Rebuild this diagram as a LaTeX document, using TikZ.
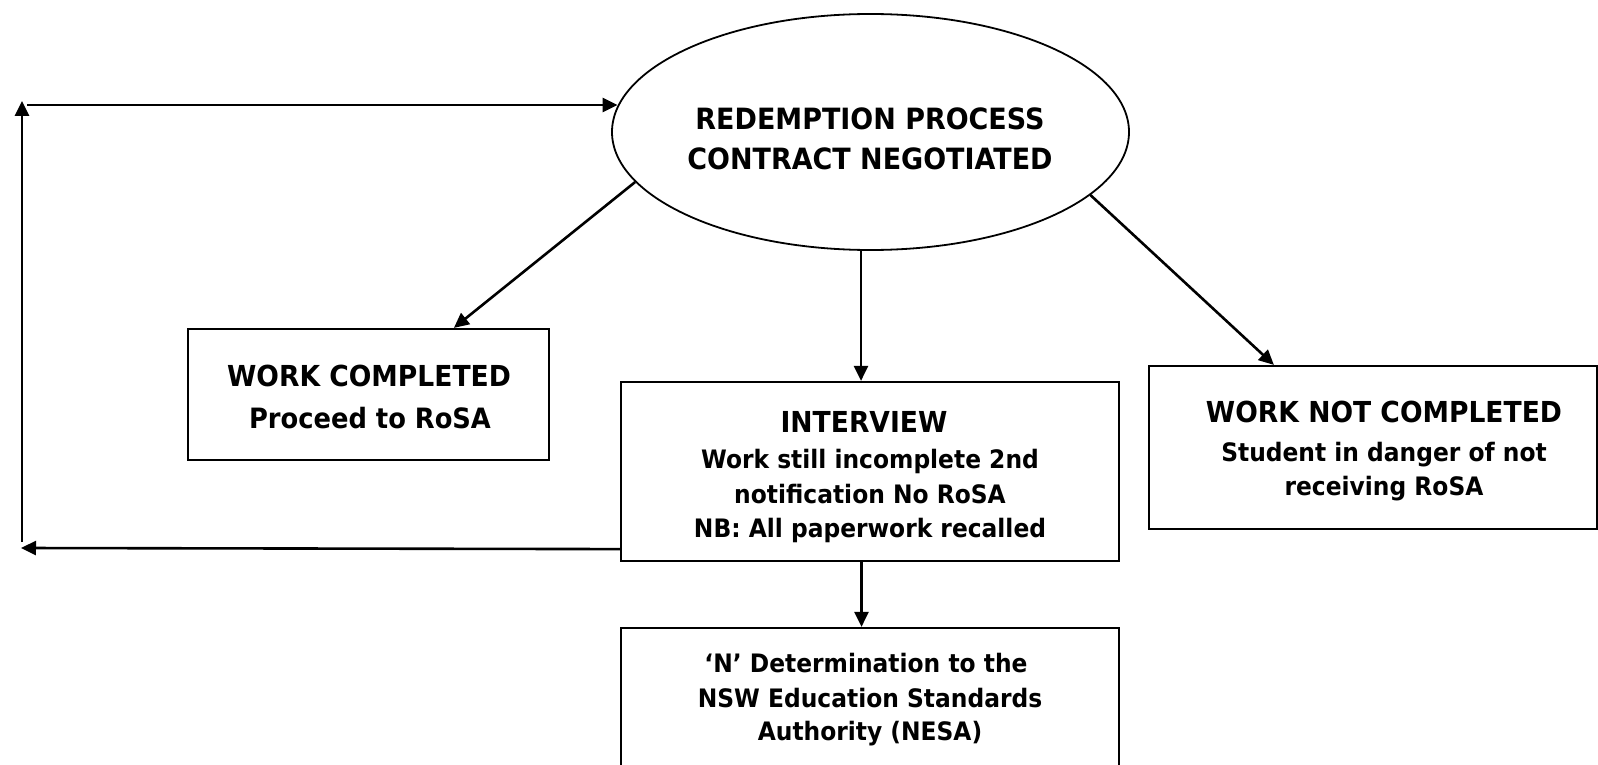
\documentclass[tikz,border=0pt]{standalone}
\usepackage{fontspec}
\setmainfont{DejaVu Sans}[BoldFeatures={FakeStretch=0.92}]
\usetikzlibrary{arrows.meta,shapes.geometric,calc}
\begin{document}
\begin{tikzpicture}[x=1pt,y=-1pt,
  box/.style={draw,line width=2.2pt,rectangle,inner sep=0pt},
  arr/.style={line width=2.6pt,-{Triangle[length=15pt,width=14pt]}},
  elltxt/.style={font=\fontsize{29.3}{33}\selectfont\bfseries,anchor=base,inner sep=0pt},
  ttl/.style={font=\fontsize{28.9}{33}\selectfont\bfseries,anchor=base,inner sep=0pt},
  bdy/.style={font=\fontsize{25.4}{30}\selectfont\bfseries,anchor=base,inner sep=0pt}]
\useasboundingbox (0,0) rectangle (1598,765);
% shapes
\node[draw,ellipse,line width=1.8pt,minimum width=517pt,minimum height=236pt,inner sep=0pt] (ell) at (870.5,132) {};
\node[box,minimum width=361pt,minimum height=131pt] (wc) at (368.5,394.5) {};
\node[box,minimum width=498pt,minimum height=179pt] (iv) at (870,471.5) {};
\node[box,minimum width=448pt,minimum height=163pt] (wnc) at (1373,447.5) {};
\node[box,minimum width=498pt,minimum height=192pt] (nesa) at (870,724) {};
% texts
\node[elltxt] (e1) at (870,130) {REDEMPTION PROCESS};
\node[elltxt] (e2) at (870,169) {CONTRACT NEGOTIATED};
\node[ttl] (wc1) at (369,386) {WORK COMPLETED};
\node[ttl,font=\fontsize{28}{32}\selectfont\bfseries] (wc2) at (370,428) {Proceed to RoSA};
\node[ttl] (iv1) at (864,432) {INTERVIEW};
\node[bdy] (iv2) at (870,468) {Work still incomplete 2nd};
\node[bdy] (iv3) at (870,503) {notification No RoSA};
\node[bdy] (iv4) at (870,537) {NB: All paperwork recalled};
\node[ttl] (wn1) at (1384,422) {WORK NOT COMPLETED};
\node[bdy] (wn2) at (1384,461) {Student in danger of not};
\node[bdy] (wn3) at (1384,495) {receiving RoSA};
\node[bdy] (ns1) at (866,672) {‘N’ Determination to the};
\node[bdy] (ns2) at (870,707) {NSW Education Standards};
\node[bdy] (ns3) at (870,740) {Authority (NESA)};
% free ends of the loop
\coordinate (tl) at (27,105);
\coordinate (tlv) at (22,101);
\coordinate (bl) at (22,542);
\coordinate (bla) at (21,548);
% connectors
\draw[arr] (ell.192.5) -- ($(wc.north west)+(267,0)$);
\draw[arr] ($(ell.south)+(-9.5,0)$) -- ($(iv.north)+(-9,0)$);
\draw[arr] (ell.344.7) -- ($(wnc.north west)+(126,0)$);
\draw[arr] ($(iv.south)+(-8.5,0)$) -- ($(nesa.north)+(-8.5,0)$);
\draw[arr] ($(iv.south west)+(0,-13)$) -- (bla);
\draw[arr] (bl) -- (tlv);
\draw[arr] (tl) -- ($(ell.west)+(6.5,-27)$);
\end{tikzpicture}
\end{document}
